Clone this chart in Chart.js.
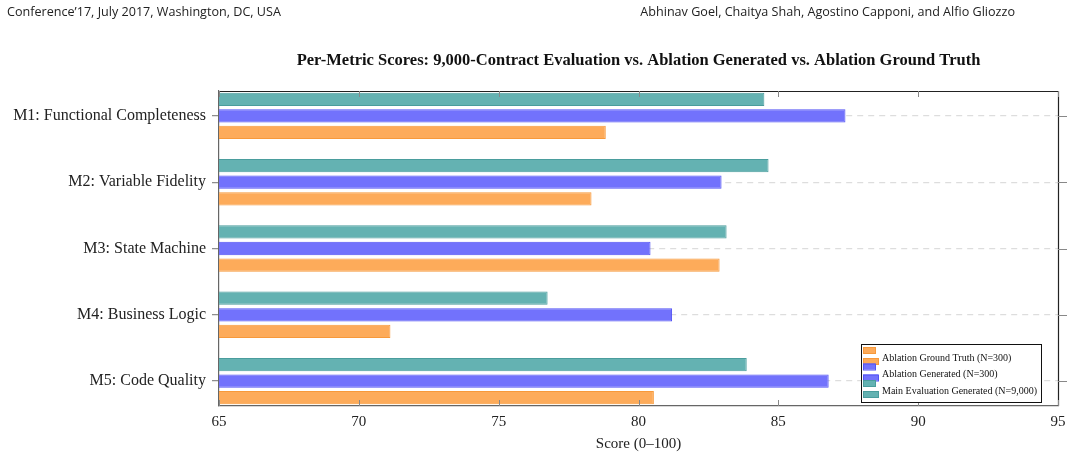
<!DOCTYPE html>
<html><head><meta charset="utf-8">
<script src="https://cdn.jsdelivr.net/npm/chart.js@4.4.1/dist/chart.umd.min.js"></script>
<style>html,body{margin:0;padding:0;background:#fff;overflow:hidden}#wrap{width:1073px;height:459px;position:relative}</style>
</head><body><div id="wrap"><canvas id="c" width="1073" height="459"></canvas></div>
<script>
const categories = ['M1: Functional Completeness', 'M2: Variable Fidelity', 'M3: State Machine', 'M4: Business Logic', 'M5: Code Quality'];
const mainEvalScores = [84.5, 84.65, 83.15, 76.75, 83.87];
const ablationGenScores = [87.4, 82.97, 80.43, 81.2, 86.8];
const ablationTruthScores = [78.83, 78.32, 82.9, 71.13, 80.55];
const xTickValues = [65, 70, 75, 80, 85, 90, 95];
const seriesLabels = ['Main Evaluation Generated (N=9,000)', 'Ablation Generated (N=300)', 'Ablation Ground Truth (N=300)'];
const chartTitle = 'Per-Metric Scores: 9,000-Contract Evaluation vs. Ablation Generated vs. Ablation Ground Truth';
const xAxisTitle = 'Score (0–100)';
const headerLeft = 'Conference’17, July 2017, Washington, DC, USA';
const headerRight = 'Abhinav Goel, Chaitya Shah, Agostino Capponi, and Alfio Gliozzo';

const SERIF = '"Liberation Serif", "Times New Roman", serif';
const fills = ['#64b2b2', '#7272fc', '#fdab5a'];
const edges = ['#4a9d9d', '#5252f4', '#f7993a'];
const seriesValues = [mainEvalScores, ablationGenScores, ablationTruthScores];

const datasets = seriesValues.map((vals, s) => ({
  label: seriesLabels[s],
  data: vals.map((v, i) => ({ x: v, y: i })),
  backgroundColor: fills[s],
  borderColor: edges[s],
  borderWidth: 1,
  borderSkipped: false,
  categoryPercentage: 0.75,
  barPercentage: 0.8
}));

const deco = {
  id: 'deco',
  afterDraw(chart) {
    const { ctx, chartArea: a, scales: { x, y } } = chart;
    ctx.save();
    // top / right frame
    ctx.strokeStyle = '#222'; ctx.lineWidth = 1.2;
    ctx.beginPath();
    ctx.moveTo(a.left, a.top + 0.5); ctx.lineTo(a.right + 0.5, a.top + 0.5); ctx.lineTo(a.right + 0.5, a.bottom);
    ctx.stroke();
    // inward x ticks
    ctx.strokeStyle = '#888'; ctx.lineWidth = 1;
    ctx.beginPath();
    xTickValues.forEach(v => {
      const px = Math.round(x.getPixelForValue(v)) + 0.5;
      ctx.moveTo(px, a.top); ctx.lineTo(px, a.top + 6);
      ctx.moveTo(px, a.bottom); ctx.lineTo(px, a.bottom - 6);
    });
    ctx.stroke();
    // right outward y ticks
    ctx.strokeStyle = '#888'; ctx.lineWidth = 1.2;
    ctx.beginPath();
    categories.forEach((c, i) => {
      const py = Math.round(y.getPixelForValue(i)) + 0.5;
      ctx.moveTo(a.right, py); ctx.lineTo(a.right + 9, py);
    });
    ctx.stroke();
    // title
    ctx.fillStyle = '#111';
    ctx.textAlign = 'center'; ctx.textBaseline = 'middle';
    ctx.font = 'bold 16.5px ' + SERIF;
    ctx.fillText(chartTitle, (a.left + a.right) / 2, 61);
    // headers
    ctx.font = '12.6px "Open Sans", sans-serif';
    ctx.fillStyle = '#222';
    ctx.textAlign = 'left';
    ctx.fillText(headerLeft, 7, 12);
    ctx.textAlign = 'right';
    ctx.fillText(headerRight, 1015, 12);
    // legend
    const bx = a.right - 197, by = a.bottom - 62, bw = 180, bh = 58;
    ctx.fillStyle = '#fff';
    ctx.fillRect(bx, by, bw, bh);
    ctx.strokeStyle = '#111'; ctx.lineWidth = 1;
    ctx.strokeRect(bx + 0.5, by + 0.5, bw, bh);
    const order = [2, 1, 0];
    ctx.font = '10px ' + SERIF;
    ctx.textAlign = 'left'; ctx.textBaseline = 'middle';
    order.forEach((s, k) => {
      const ty = by + 14 + k * 16.5;
      ctx.fillStyle = fills[s]; ctx.strokeStyle = edges[s];
      ctx.fillRect(bx + 2, ty - 11, 12, 6); ctx.strokeRect(bx + 2.5, ty - 10.5, 12, 6);
      ctx.fillRect(bx + 2, ty + 0, 15, 6); ctx.strokeRect(bx + 2.5, ty + 0.5, 15, 6);
      ctx.fillStyle = '#111';
      ctx.fillText(seriesLabels[s], bx + 21, ty);
    });
    ctx.restore();
  }
};

new Chart(document.getElementById('c'), {
  type: 'bar',
  data: { datasets },
  plugins: [deco],
  options: {
    indexAxis: 'y',
    responsive: false,
    animation: false,
    layout: { padding: { top: 91, right: 15, bottom: 0, left: 0 } },
    plugins: { legend: { display: false }, tooltip: { enabled: false }, title: { display: false } },
    scales: {
      x: {
        type: 'linear', min: 65, max: 95,
        afterBuildTicks: s => { s.ticks = xTickValues.map(v => ({ value: v })); },
        afterFit: s => { s.height = 53; },
        grid: { display: false, drawTicks: false },
        border: { display: true, color: '#666', width: 1.2 },
        ticks: { padding: 7, color: '#222', font: { family: SERIF, size: 15 }, maxRotation: 0 },
        title: { display: true, text: xAxisTitle, color: '#222', font: { family: SERIF, size: 15 }, padding: { top: 4, bottom: 6 } }
      },
      y: {
        type: 'linear', reverse: true, min: -0.375, max: 4.375, offset: false,
        afterBuildTicks: s => { s.ticks = categories.map((c, i) => ({ value: i })); },
        afterFit: s => { s.width = 219; },
        grid: { offset: false, color: '#dddddd', lineWidth: 1.3, tickColor: '#888', tickLength: 7, tickWidth: 1.2, tickBorderDash: [] },
        border: { display: true, color: '#666', width: 1.2, dash: [6, 5] },
        ticks: { padding: 6, color: '#222', font: { family: SERIF, size: 16 }, callback: v => categories[v] }
      }
    }
  }
});
</script></body></html>
